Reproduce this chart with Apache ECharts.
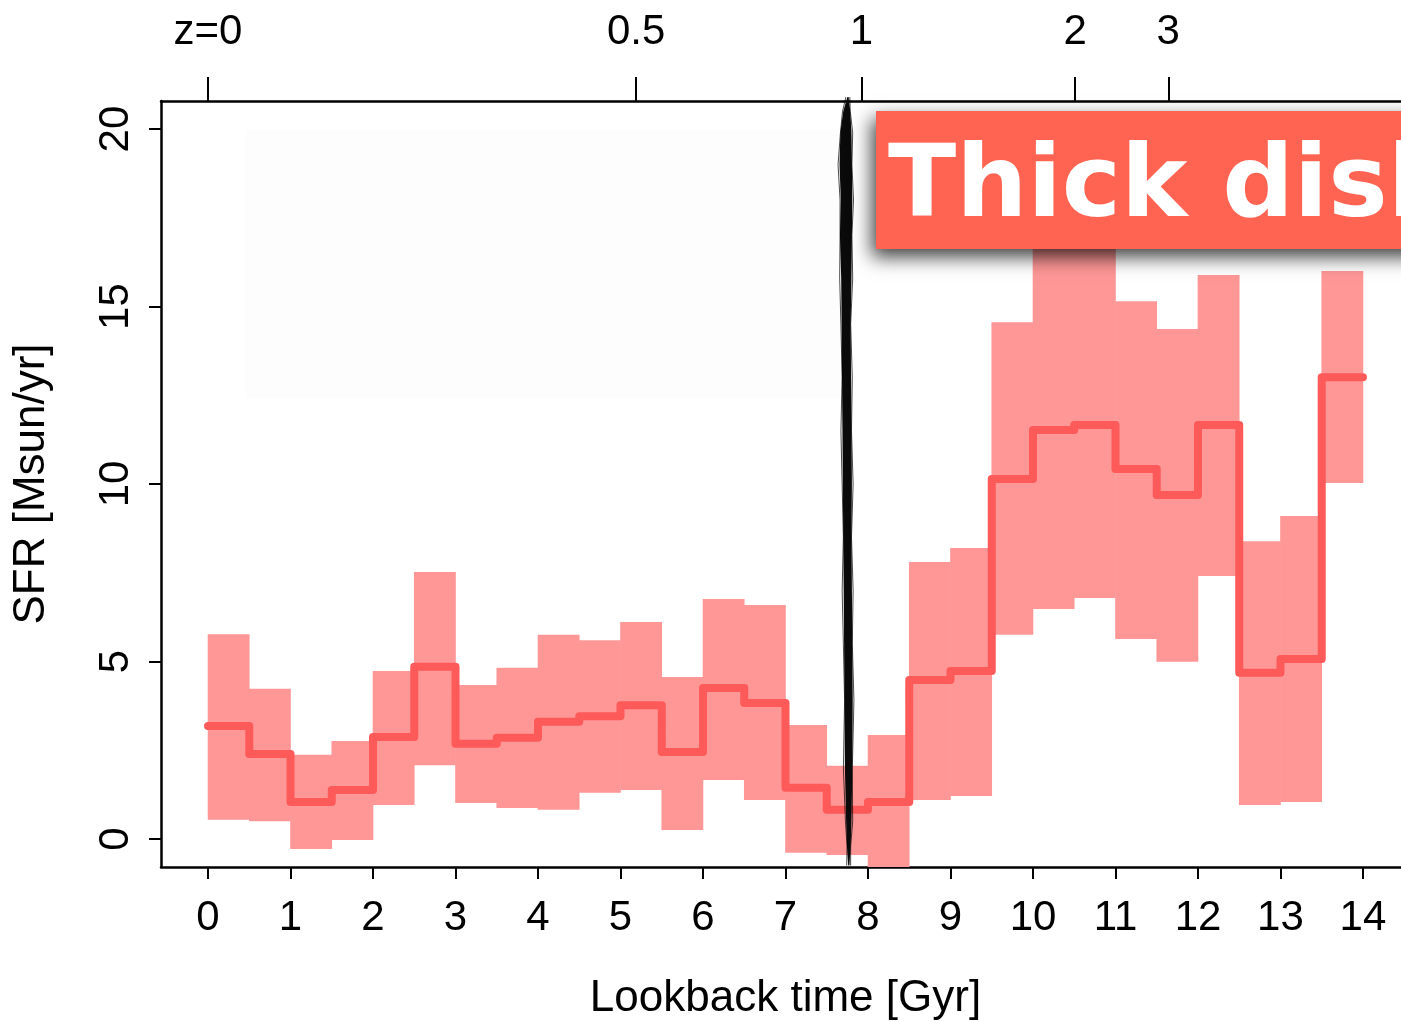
<!DOCTYPE html>
<html>
<head>
<meta charset="utf-8">
<title>SFR - Thick disk</title>
<script src="https://cdn.jsdelivr.net/npm/echarts@6.0.0/dist/echarts.min.js"></script>
<style>
  html, body { margin: 0; padding: 0; background: #fff; }
  #chart { width: 1401px; height: 1022px; }
</style>
</head>
<body>
<div id="chart"></div>
<script>
// bin edges of the lookback time (Gyr), 0.5 Gyr wide
var binEdges = [0, 0.5, 1, 1.5, 2, 2.5, 3, 3.5, 4, 4.5, 5, 5.5, 6, 6.5, 7,
                7.5, 8, 8.5, 9, 9.5, 10, 10.5, 11, 11.5, 12, 12.5, 13, 13.5, 14];
// median SFR per bin
var sfrMedian = [3.18, 2.39, 1.04, 1.38, 2.87, 4.85, 2.68, 2.85, 3.30, 3.46,
                 3.77, 2.45, 4.25, 3.83, 1.44, 0.82, 1.04, 4.48, 4.73, 10.14,
                 11.52, 11.66, 10.42, 9.69, 11.66, 4.68, 5.07, 13.01];
// lower / upper envelope per bin
var sfrLow = [0.54, 0.50, -0.28, -0.03, 0.96, 2.08, 1.01, 0.87, 0.82, 1.30,
              1.38, 0.25, 1.66, 1.10, -0.39, -0.45, -1.20, 1.10, 1.21, 5.75,
              6.48, 6.79, 5.63, 4.99, 7.41, 0.96, 1.04, 10.03];
var sfrHigh = [5.77, 4.23, 2.37, 2.76, 4.73, 7.52, 4.34, 4.82, 5.75, 5.60,
               6.11, 4.56, 6.76, 6.59, 3.21, 2.06, 2.93, 7.80, 8.20, 14.56,
               18.0, 17.6, 15.15, 14.37, 15.89, 8.39, 9.10, 16.00];

var xTicks = [0, 1, 2, 3, 4, 5, 6, 7, 8, 9, 10, 11, 12, 13, 14];
var yTicks = [0, 5, 10, 15, 20];
// redshift ticks on top (lookback time of z)
var zTicks = [0, 5.19, 7.92, 10.51, 11.64];
var zLabels = ['z=0', '0.5', '1', '2', '3'];

// hand drawn marker near 7.75 Gyr: [t, sfr] outline, left side going down, right side going up
var scribbleLeft = [[7.75, 20.9], [7.70, 20.5], [7.665, 19.9], [7.655, 19.0], [7.67, 18.0],
                    [7.66, 17.0], [7.675, 15.8], [7.68, 14.5], [7.685, 13.0], [7.69, 11.5],
                    [7.695, 10.0], [7.70, 8.5], [7.705, 7.0], [7.71, 5.5], [7.715, 3.9],
                    [7.72, 2.0], [7.735, 0.5], [7.745, -0.2], [7.76, -0.75]];
var scribbleRight = [[7.775, -0.75], [7.79, -0.2], [7.80, 0.5], [7.81, 2.0], [7.815, 3.9],
                     [7.81, 5.5], [7.805, 7.0], [7.80, 8.5], [7.805, 10.0], [7.80, 11.5],
                     [7.795, 13.0], [7.79, 14.5], [7.80, 15.8], [7.805, 17.0], [7.81, 18.0],
                     [7.805, 19.0], [7.80, 19.9], [7.785, 20.5], [7.765, 20.9]];

// faint background box
var shadeBox = [[0.45, 20.0], [7.66, 12.4]];

var fontMain = '"Liberation Sans", Arial, Helvetica, sans-serif';

var bandData = [];
var lineData = [];
for (var i = 0; i < sfrMedian.length; i++) {
	bandData.push([binEdges[i], binEdges[i + 1], sfrLow[i], sfrHigh[i]]);
	lineData.push([binEdges[i], sfrMedian[i]]);
	lineData.push([binEdges[i + 1], sfrMedian[i]]);
}

function renderBand(params, api) {
	var p0 = api.coord([api.value(0), api.value(3)]);
	var p1 = api.coord([api.value(1), api.value(2)]);
	var rect = echarts.graphic.clipRectByRect({
		x: p0[0] - 0.3, y: p0[1], width: p1[0] - p0[0] + 0.6, height: p1[1] - p0[1]
	}, {
		x: params.coordSys.x, y: params.coordSys.y,
		width: params.coordSys.width, height: params.coordSys.height
	});
	if (!rect) return;
	return { type: 'rect', shape: rect, style: { fill: '#ff9797' } };
}

function renderScribble(params, api) {
	var pts = [];
	var all = scribbleLeft.concat(scribbleRight);
	for (var k = 0; k < all.length; k++) {
		pts.push(api.coord(all[k]));
	}
	// a couple of loose strokes along the edges
	var l1 = [], l2 = [];
	for (var k = 0; k < scribbleLeft.length; k++) {
		var a = api.coord(scribbleLeft[k]);
		var b = api.coord(scribbleRight[scribbleRight.length - 1 - k]);
		l1.push([a[0] - 1.5 + (k % 3) * 0.8, a[1]]);
		l2.push([b[0] + 1.2 - (k % 2) * 1.2, b[1]]);
	}
	return {
		type: 'group',
		children: [
			{ type: 'polygon', shape: { points: pts }, style: { fill: '#0a0a0a' } },
			{ type: 'polyline', shape: { points: l1 }, style: { stroke: 'rgba(0,0,0,0.7)', lineWidth: 1, fill: null } },
			{ type: 'polyline', shape: { points: l2 }, style: { stroke: 'rgba(0,0,0,0.7)', lineWidth: 1, fill: null } }
		]
	};
}

var chart = echarts.init(document.getElementById('chart'));
var option = {
	backgroundColor: '#fff',
	animation: false,
	grid: { left: 161, top: 101, right: -9, bottom: 155, outerBoundsMode: 'none', containLabel: false },
	xAxis: [
		{
			type: 'value', position: 'bottom',
			min: -0.57, max: 14.57,
			name: 'Lookback time [Gyr]', nameLocation: 'middle', nameGap: 110,
			nameTextStyle: { fontFamily: fontMain, fontSize: 44, color: '#000' },
			axisLine: { show: true, onZero: false, lineStyle: { color: '#000', width: 2.5 } },
			axisTick: { show: true, customValues: xTicks, length: 12, lineStyle: { color: '#000', width: 2 } },
			axisLabel: { customValues: xTicks, margin: 30, fontFamily: fontMain, fontSize: 42, color: '#000' },
			splitLine: { show: false }
		},
		{
			type: 'value', position: 'top',
			min: -0.57, max: 14.57,
			axisLine: { show: true, onZero: false, lineStyle: { color: '#000', width: 2.5 } },
			axisTick: { show: true, customValues: zTicks, length: 24, lineStyle: { color: '#000', width: 2 } },
			axisLabel: {
				customValues: zTicks, margin: 48, fontFamily: fontMain, fontSize: 42, color: '#000',
				formatter: function (v) {
					for (var j = 0; j < zTicks.length; j++) {
						if (Math.abs(zTicks[j] - v) < 1e-6) return zLabels[j];
					}
					return '';
				}
			},
			splitLine: { show: false }
		}
	],
	yAxis: {
		type: 'value',
		min: -0.79, max: 20.79,
		name: 'SFR [Msun/yr]', nameLocation: 'middle', nameGap: 107, nameRotate: 90,
		nameTextStyle: { fontFamily: fontMain, fontSize: 44, color: '#000' },
		axisLine: { show: true, onZero: false, lineStyle: { color: '#000', width: 2.5 } },
		axisTick: { show: true, customValues: yTicks, length: 12, lineStyle: { color: '#000', width: 2 } },
		axisLabel: { customValues: yTicks, rotate: 90, margin: 24, fontFamily: fontMain, fontSize: 42, color: '#000' },
		splitLine: { show: false }
	},
	series: [
		{
			name: 'range',
			type: 'custom',
			renderItem: renderBand,
			encode: { x: [0, 1], y: [2, 3] },
			data: bandData,
			z: 2,
			markArea: {
				silent: true,
				itemStyle: { color: '#fdfdfd' },
				data: [[{ coord: shadeBox[0] }, { coord: shadeBox[1] }]]
			}
		},
		{
			name: 'median',
			type: 'line',
			data: lineData,
			showSymbol: false,
			symbol: 'none',
			clip: true,
			lineStyle: { color: '#ff5a5a', width: 8, cap: 'round', join: 'round' },
			z: 3
		},
		{
			name: 'marker',
			type: 'custom',
			renderItem: renderScribble,
			data: [[7.76, 10]],
			z: 4,
			silent: true
		}
	],
	graphic: [
		{
			type: 'rect',
			left: 876, top: 111,
			shape: { width: 600, height: 138 },
			style: {
				fill: '#ff6352',
				shadowBlur: 18, shadowOffsetX: -4, shadowOffsetY: 8, shadowColor: 'rgba(0,0,0,0.75)'
			},
			z: 100
		},
		{
			type: 'text',
			x: 888, y: 190,
			style: {
				text: 'Thick disk',
				fill: '#fff',
				font: 'bold 100px "DejaVu Sans", Verdana, sans-serif',
				verticalAlign: 'middle',
				align: 'left'
			},
			z: 101
		}
	]
};
chart.setOption(option, true);
window.addEventListener('resize', chart.resize);
</script>
</body>
</html>
